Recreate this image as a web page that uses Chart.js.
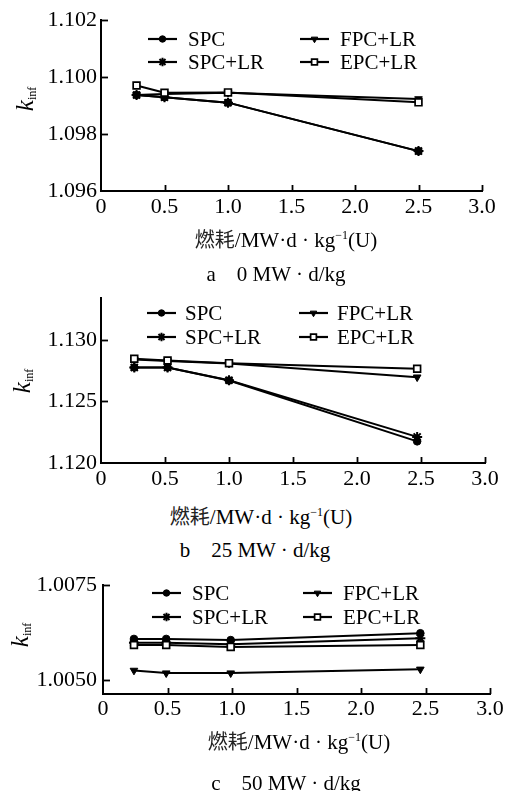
<!DOCTYPE html>
<html>
<head>
<meta charset="utf-8">
<script src="https://cdn.jsdelivr.net/npm/chart.js@4/dist/chart.umd.min.js"></script>
<style>
  html, body { margin: 0; padding: 0; background: #fff; }
  body { width: 508px; height: 791px; position: relative; overflow: hidden;
         font-family: "Liberation Serif", "Times New Roman", serif; color: #000; }
  .cv { position: absolute; left: 0; width: 508px; }
  .txt { position: absolute; white-space: nowrap; font-size: 21px; line-height: 1; transform: translate(-50%, -50%); }
  .cjk { font-family: "Noto Sans CJK SC", sans-serif; font-size: 20px; color: #222; }
  .ytitle { position: absolute; white-space: nowrap; font-size: 25px; line-height: 1;
            transform: translate(-50%, -50%) rotate(-90deg); }
  .ytitle sub { font-size: 12px; vertical-align: -3px; }
</style>
</head>
<body>
<div class="cv" style="top:0px;height:225px"><canvas id="cA"></canvas></div>
<div class="cv" style="top:280px;height:217px"><canvas id="cB"></canvas></div>
<div class="cv" style="top:565px;height:163px"><canvas id="cC"></canvas></div>

<div class="ytitle" style="left:25px;top:99px"><i>k</i><sub>inf</sub></div>
<div class="ytitle" style="left:22px;top:381px"><i>k</i><sub>inf</sub></div>
<div class="ytitle" style="left:20px;top:635px"><i>k</i><sub>inf</sub></div>

<div class="txt" style="left:286px;top:240px"><span class="cjk">燃耗</span>/MW·d · kg<sup style="font-size:12px">−1</sup>(U)</div>
<div class="txt" style="left:276px;top:274px">a&nbsp;&nbsp;&nbsp;&nbsp;0 MW · d/kg</div>
<div class="txt" style="left:261px;top:517px"><span class="cjk">燃耗</span>/MW·d · kg<sup style="font-size:12px">−1</sup>(U)</div>
<div class="txt" style="left:255px;top:550px">b&nbsp;&nbsp;&nbsp;&nbsp;25 MW · d/kg</div>
<div class="txt" style="left:299px;top:742px"><span class="cjk">燃耗</span>/MW·d · kg<sup style="font-size:12px">−1</sup>(U)</div>
<div class="txt" style="left:286px;top:783px">c&nbsp;&nbsp;&nbsp;&nbsp;50 MW · d/kg</div>

<script>
// ---------- data ----------
const seriesNames = ["SPC", "SPC+LR", "FPC+LR", "EPC+LR"];
const xTickValues = [0, 0.5, 1.0, 1.5, 2.0, 2.5, 3.0];

// (a) 0 MW·d/kg
const burnupA = [0.28, 0.5, 1.0, 2.5];
const spcA    = [1.09937, 1.09929, 1.09910, 1.09740];
const spclrA  = [1.09937, 1.09929, 1.09910, 1.09740];
const fpclrA  = [1.09937, 1.09940, 1.09945, 1.09923];
const epclrA  = [1.09970, 1.09945, 1.09946, 1.09911];
const yTicksA = [1.096, 1.098, 1.100, 1.102];

// (b) 25 MW·d/kg
const burnupB = [0.26, 0.52, 1.0, 2.47];
const spcB    = [1.12776, 1.12776, 1.12670, 1.12176];
const spclrB  = [1.12776, 1.12776, 1.12672, 1.12212];
const fpclrB  = [1.12840, 1.12828, 1.12808, 1.12697];
const epclrB  = [1.12846, 1.12832, 1.12811, 1.12765];
const yTicksB = [1.120, 1.125, 1.130];

// (c) 50 MW·d/kg
const burnupC = [0.24, 0.49, 0.99, 2.46];
const spcC    = [1.00608, 1.00608, 1.00605, 1.00623];
const spclrC  = [1.00598, 1.00598, 1.00594, 1.00610];
const fpclrC  = [1.00525, 1.00518, 1.00518, 1.00528];
const epclrC  = [1.00592, 1.00592, 1.00587, 1.00592];
const yTicksC = [1.0050, 1.0075];

// ---------- styles ----------
const markerStyles = [
  { pointStyle: 'circle', radius: 3.8, fill: '#000', rotation: 0, bw: 1 },
  { pointStyle: 'star',   radius: 5,   fill: '#000', rotation: 0, bw: 2 },
  { pointStyle: 'triangle', radius: 4.4, fill: '#000', rotation: 180, bw: 1 },
  { pointStyle: 'rect',   radius: 4.8, fill: '#fff', rotation: 0, bw: 1.7 }
];

function makeDatasets(xs, ys) {
  return ys.map((arr, i) => {
    const m = markerStyles[i];
    return {
      label: seriesNames[i],
      data: arr.map((v, j) => ({ x: xs[j], y: v })),
      borderColor: '#000',
      borderWidth: 2,
      backgroundColor: m.fill,
      pointBackgroundColor: m.fill,
      pointBorderColor: '#000',
      pointBorderWidth: m.bw,
      pointStyle: m.pointStyle,
      pointRadius: m.radius,
      pointRotation: m.rotation,
      tension: 0,
      order: [3, 1, 2, 0][i]
    };
  });
}

const FAMILY = '"Liberation Serif", "Times New Roman", serif';
const FONT = { family: FAMILY, size: 22 };

// inner tick marks
const innerTicks = {
  id: 'innerTicks',
  afterDraw(chart) {
    const ctx = chart.ctx, ca = chart.chartArea;
    const xs = chart.scales.x, ys = chart.scales.y;
    ctx.save();
    ctx.strokeStyle = '#000';
    ctx.lineWidth = 1.8;
    xs.ticks.forEach(t => {
      if (t.value === 0) return;
      const px = Math.round(xs.getPixelForValue(t.value)) + 0.5;
      ctx.beginPath(); ctx.moveTo(px, ca.bottom); ctx.lineTo(px, ca.bottom - 6); ctx.stroke();
    });
    ys.ticks.forEach(t => {
      const py = Math.round(ys.getPixelForValue(t.value)) + 0.5;
      if (Math.abs(py - ca.bottom) < 2) return;
      ctx.beginPath(); ctx.moveTo(ca.left, py); ctx.lineTo(ca.left + 7, py); ctx.stroke();
    });
    ctx.restore();
  }
};

// legend drawn inside the plot area (2 x 2)
const insideLegend = {
  id: 'insideLegend',
  afterDraw(chart, args, opts) {
    const ctx = chart.ctx;
    const order = [0, 2, 1, 3]; // SPC, FPC+LR / SPC+LR, EPC+LR
    ctx.save();
    ctx.font = '21px ' + FAMILY;
    ctx.textBaseline = 'middle';
    order.forEach((di, k) => {
      const col = k % 2, row = Math.floor(k / 2);
      const ds = chart.data.datasets[di];
      const x0 = opts.cols[col], y = opts.rows[row];
      const len = 29;
      ctx.strokeStyle = '#000';
      ctx.lineWidth = 2.2;
      ctx.beginPath(); ctx.moveTo(x0, y); ctx.lineTo(x0 + len, y); ctx.stroke();
      ctx.fillStyle = ds.pointBackgroundColor;
      ctx.strokeStyle = '#000';
      ctx.lineWidth = ds.pointBorderWidth;
      Chart.helpers.drawPoint(ctx, {
        pointStyle: ds.pointStyle, rotation: ds.pointRotation,
        radius: ds.pointRadius * 0.85, borderWidth: ds.pointBorderWidth
      }, x0 + len / 2, y);
      ctx.fillStyle = '#000';
      ctx.fillText(ds.label, x0 + len + opts.gap, y + 1);
    });
    ctx.restore();
  }
};

function makeChart(id, xs, ys, yMin, yMax, yTicks, yDec, geo) {
  return new Chart(document.getElementById(id), {
    type: 'line',
    data: { datasets: makeDatasets(xs, ys) },
    options: {
      responsive: true,
      maintainAspectRatio: false,
      animation: false,
      devicePixelRatio: 1,
      layout: { padding: { top: geo.top, right: geo.right, bottom: 0, left: 0 } },
      plugins: {
        legend: { display: false },
        tooltip: { enabled: false },
        insideLegend: geo.legend
      },
      scales: {
        x: {
          type: 'linear', min: 0, max: 3,
          afterBuildTicks: s => { s.ticks = xTickValues.map(v => ({ value: v })); },
          afterFit: s => { s.height = 34; },
          grid: { display: false, drawTicks: false },
          border: { display: true, color: '#000', width: 2 },
          ticks: {
            color: '#000', font: FONT, padding: geo.xpad, maxRotation: 0, autoSkip: false,
            callback: v => v === 0 ? '0' : v.toFixed(1)
          }
        },
        y: {
          type: 'linear', min: yMin, max: yMax,
          afterBuildTicks: s => { s.ticks = yTicks.map(v => ({ value: v })); },
          afterFit: s => { s.width = geo.yw; },
          grid: { display: false, drawTicks: false },
          border: { display: true, color: '#000', width: 2 },
          ticks: {
            color: '#000', font: FONT, padding: geo.ypad, autoSkip: false,
            callback: v => v.toFixed(yDec)
          }
        }
      }
    },
    plugins: [innerTicks, insideLegend]
  });
}

makeChart('cA', burnupA, [spcA, spclrA, fpclrA, epclrA], 1.096, 1.102, yTicksA, 3,
  { top: 20, right: 26, yw: 101, xpad: 3, ypad: 4,
    legend: { cols: [148, 300], rows: [39, 62], gap: 11 } });

makeChart('cB', burnupB, [spcB, spclrB, fpclrB, epclrB], 1.120, 1.1334, yTicksB, 3,
  { top: 18, right: 23, yw: 101, xpad: 3, ypad: 4,
    legend: { cols: [147, 299], rows: [33, 57], gap: 9 } });

makeChart('cC', burnupC, [spcC, spclrC, fpclrC, epclrC], 1.00463, 1.0075, yTicksC, 4,
  { top: 20, right: 18, yw: 103, xpad: 2, ypad: 6,
    legend: { cols: [152, 303], rows: [28, 52], gap: 11 } });
</script>
</body>
</html>
